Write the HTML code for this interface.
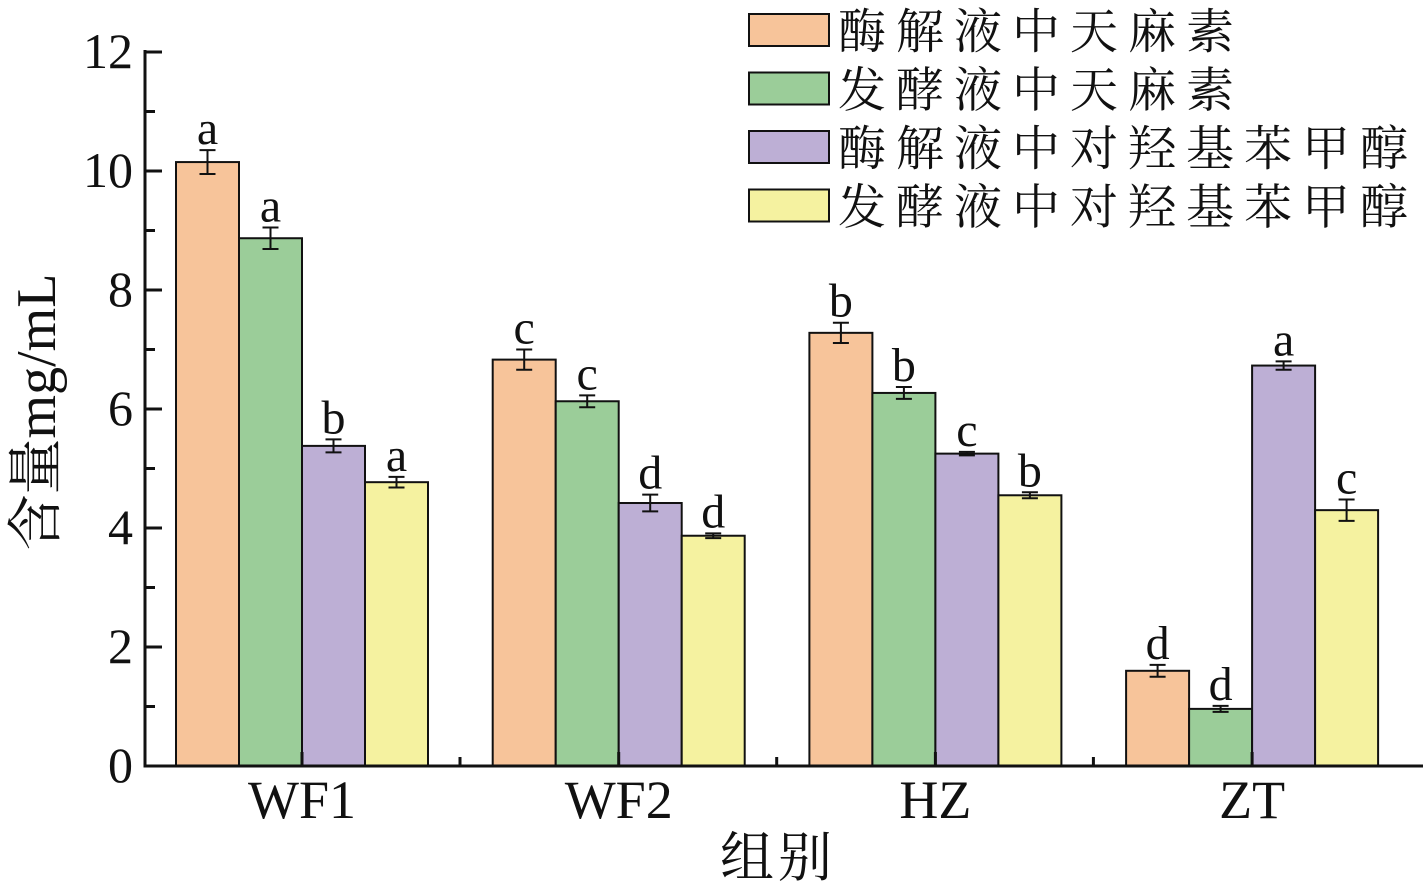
<!DOCTYPE html>
<html><head><meta charset="utf-8"><style>
body{margin:0;background:#fff}
text{font-family:"Liberation Serif","Noto Serif CJK SC",serif;fill:#111}
</style></head><body>
<svg id="chart" width="1423" height="888" xmlns="http://www.w3.org/2000/svg"></svg>
<script>
const categories=["WF1","WF2","HZ","ZT"];
const seriesNames=["酶解液中天麻素","发酵液中天麻素","酶解液中对羟基苯甲醇","发酵液中对羟基苯甲醇"];
const s1=[10.15,6.83,7.28,1.6];
const s2=[8.87,6.13,6.27,0.96];
const s3=[5.38,4.42,5.25,6.73];
const s4=[4.77,3.87,4.55,4.3];
const e1=[0.2,0.17,0.17,0.1];
const e2=[0.18,0.1,0.1,0.05];
const e3=[0.11,0.14,0.03,0.07];
const e4=[0.09,0.04,0.05,0.18];
const l1=["a","c","b","d"];
const l2=["a","c","b","d"];
const l3=["b","d","c","a"];
const l4=["a","d","b","c"];
const yTicks=[0,2,4,6,8,10,12];
const colors=["#F7C49A","#9BCD99","#BDAFD5","#F5F2A0"];
const series=[s1,s2,s3,s4],errs=[e1,e2,e3,e4],letters=[l1,l2,l3,l4];
const svg=document.getElementById('chart');const NS="http://www.w3.org/2000/svg";
function mk(t,a,p){const e=document.createElementNS(NS,t);for(const k in a)e.setAttribute(k,a[k]);(p||svg).appendChild(e);return e;}
const y0=766,ppu=59.5,xL=145;
const Y=v=>y0-v*ppu;
const gc=i=>302+i*316.7;
const bw=63;
series.forEach((s,j)=>{s.forEach((v,i)=>{
 const x=gc(i)-2*bw+j*bw;
 const r=mk('rect',{x:x,y:Y(v),width:bw,height:v*ppu,fill:colors[j],stroke:'#111','stroke-width':2});
 
 
 const cx=x+bw/2,e=errs[j][i];
 const g=mk('path',{d:`M${cx},${Y(v+e)}V${Y(v-e)}M${cx-8},${Y(v+e)}H${cx+8}M${cx-8},${Y(v-e)}H${cx+8}`,stroke:'#111','stroke-width':2,fill:'none'});
 
 
 const t=mk('text',{x:cx,y:Y(v+e)-6,'text-anchor':'middle','font-size':48});
 t.textContent=letters[j][i];
 
 
});});
const ax=mk('path',{d:`M${xL},50V${y0}H1423`,stroke:'#111','stroke-width':3,fill:'none'});


yTicks.forEach(v=>{
 mk('line',{x1:xL,x2:xL+17,y1:Y(v),y2:Y(v),stroke:'#111','stroke-width':3});
 if(v<12)mk('line',{x1:xL,x2:xL+10,y1:Y(v+1),y2:Y(v+1),stroke:'#111','stroke-width':3});
 const t=mk('text',{x:xL-12,y:Y(v)+16,'text-anchor':'end','font-size':50});
 t.textContent=v;
 
 
});
categories.forEach((c,i)=>{
 mk('line',{x1:gc(i),x2:gc(i),y1:y0,y2:y0-14,stroke:'#111','stroke-width':3});
 if(i<3)mk('line',{x1:gc(i)+158,x2:gc(i)+158,y1:y0,y2:y0-9,stroke:'#111','stroke-width':3});
 const t=mk('text',{x:gc(i),y:818,'text-anchor':'middle','font-size':54});
 t.textContent=c;
 
 
});
const xt=mk('text',{x:778,y:876,'text-anchor':'middle','font-size':54,'letter-spacing':4});xt.textContent="组别";


const yt=mk('text',{x:0,y:0,'text-anchor':'middle','font-size':56,transform:'translate(55,412) rotate(-90)'});yt.textContent="含量mg/mL";


seriesNames.forEach((n,j)=>{
 const yy=14+j*58.5;
 const r=mk('rect',{x:749,y:yy,width:80,height:32,fill:colors[j],stroke:'#111','stroke-width':2});
 
 
 const t=mk('text',{x:838,y:yy+34,'font-size':48,'letter-spacing':10});t.textContent=n;
 
 
});
</script>
</body></html>
